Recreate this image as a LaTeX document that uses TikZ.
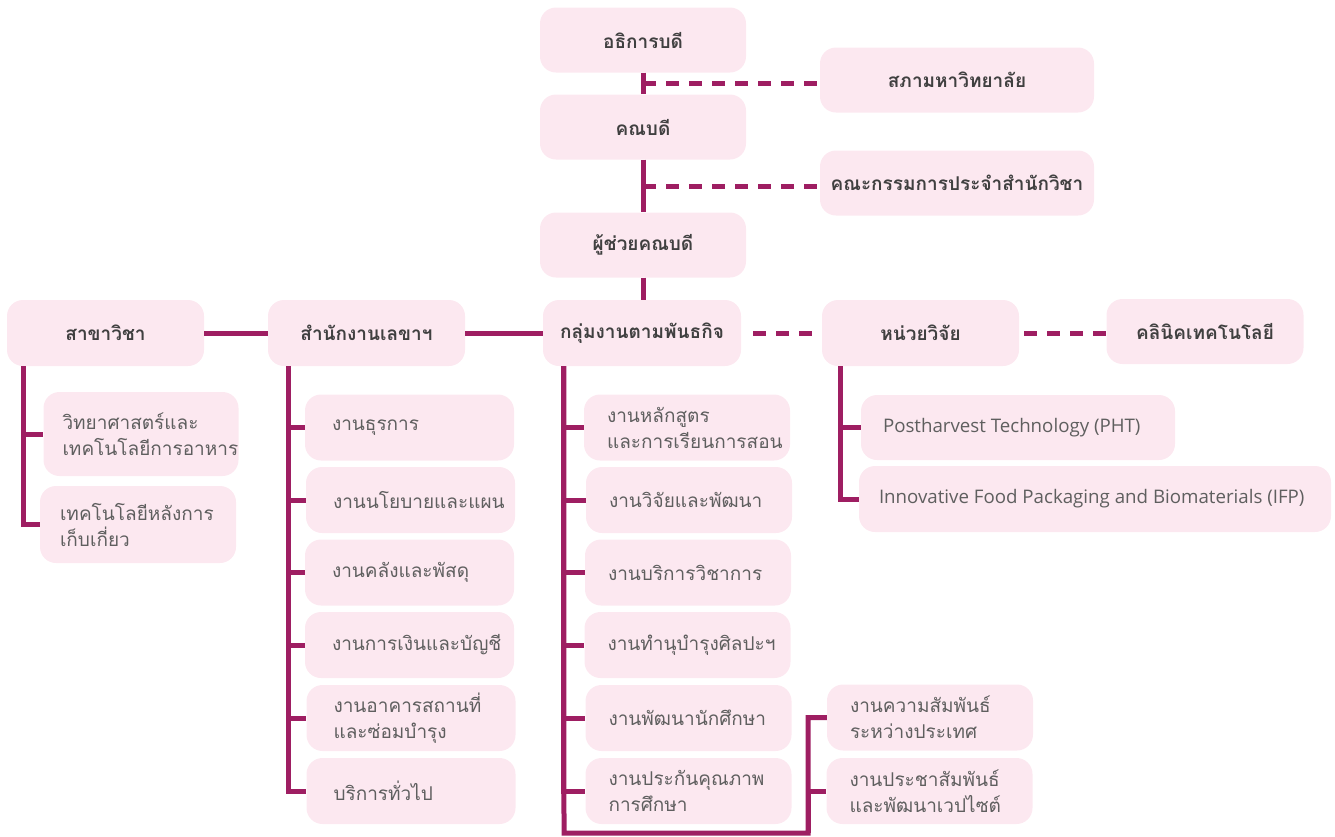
\documentclass[tikz,border=0pt]{standalone}
\usepackage{fontspec}
\newfontfamily\thaifont[Script=Thai]{Loma}
\newfontfamily\latinfont{Open Sans}
\definecolor{boxpink}{RGB}{252,232,240}
\definecolor{linepurple}{RGB}{158,30,98}
\definecolor{headgray}{RGB}{64,64,64}
\definecolor{itemgray}{RGB}{95,95,95}
\begin{document}
\begin{tikzpicture}[x=1pt,y=-1pt,
  box/.style={rounded corners=16pt, fill=boxpink, inner ysep=0pt},
  head/.style={box, minimum width=#1, minimum height=66pt, inner xsep=0pt,
    text=headgray, font=\thaifont\bfseries\fontsize{19}{24}\selectfont},
  head/.default=198pt,
  item/.style={box, minimum height=66pt, text=itemgray, align=left,
    font=\thaifont\fontsize{19}{26}\selectfont},
  conn/.style={draw=linepurple, line width=5pt},
  dashconn/.style={draw=linepurple, line width=5pt, dash pattern=on 13pt off 10pt}]
\useasboundingbox (0,0) rectangle (1335,836);

% top of the hierarchy
\node[head=206pt, minimum height=65pt] (rector) at (643,40) {อธิการบดี};
\node[head=274pt, minimum height=65pt] (council) at (957,80) {สภามหาวิทยาลัย};
\node[head=206pt, minimum height=65pt] (dean) at (643,127) {คณบดี};
\node[head=274pt, minimum height=65pt] (board) at (957,183) {คณะกรรมการประจำสำนักวิชา};
\node[head=206pt, minimum height=65pt] (asst) at (643,245) {ผู้ช่วยคณบดี};

% main row
\node[head=197pt] (sakha) at (105.5,333) {สาขาวิชา};
\node[head=197pt] (office) at (366.5,333) {สำนักงานเลขาฯ};
\node[head=198pt] (mission) at (642,333) {กลุ่มงานตามพันธกิจ};
\node[head=197pt] (research) at (920.5,333) {หน่วยวิจัย};
\node[head=197pt, minimum height=65pt] (clinic) at (1205,331.5) {คลินิคเทคโนโลยี};

% programmes
\node[item, inner xsep=19pt, text width=157pt, minimum height=84pt] (sci) at (141,434) {วิทยาศาสตร์และ\\เทคโนโลยีการอาหาร};
\node[item, inner xsep=20pt, text width=156pt, minimum height=77pt] (post) at (138,524.5) {เทคโนโลยีหลังการ\\เก็บเกี่ยว};

% secretariat units
\begin{scope}[every node/.style={item, inner xsep=27pt, text width=155pt}]
\node (o1) at (409.5,427.5) {งานธุรการ};
\node (o2) at (410.5,500) {งานนโยบายและแผน};
\node (o3) at (409.5,572.5) {งานคลังและพัสดุ};
\node (o4) at (409.5,645) {งานการเงินและบัญชี};
\node (o5) at (411,718) {งานอาคารสถานที่\\และซ่อมบำรุง};
\node (o6) at (411,791) {บริการทั่วไป};
\end{scope}

% mission units
\begin{scope}[every node/.style={item, inner xsep=23pt, text width=160pt}]
\node (m1) at (687,427.5) {งานหลักสูตร\\และการเรียนการสอน};
\node (m2) at (689,500) {งานวิจัยและพัฒนา};
\node (m3) at (688,572.5) {งานบริการวิชาการ};
\node (m4) at (687.5,645) {งานทำนุบำรุงศิลปะฯ};
\node (m5) at (688.5,718) {งานพัฒนานักศึกษา};
\node (m6) at (688.5,791) {งานประกันคุณภาพ\\การศึกษา};
\node (m7) at (930,717.5) {งานความสัมพันธ์\\ระหว่างประเทศ};
\node (m8) at (929.5,791) {งานประชาสัมพันธ์\\และพัฒนาเวปไซต์};
\end{scope}

% research groups
\node[item, inner xsep=22pt, minimum height=65pt, font=\latinfont\fontsize{18.7}{24}\selectfont] (pht) at (1018,427.5) {\makebox[270pt][l]{Postharvest Technology (PHT)}};
\node[item, inner xsep=20pt, font=\latinfont\fontsize{18.7}{24}\selectfont] (ifp) at (1095,499) {\makebox[432pt][l]{Innovative Food Packaging and Biomaterials (IFP)}};

% vertical chain
\draw[conn] (rector.south) -- (dean.north);
\draw[conn] (dean.south) -- (asst.north);
\draw[conn] (asst.south) -- (asst.south |- mission.north);
\coordinate (j1) at (643,83);
\coordinate (j2) at (643,186);
\draw[dashconn] (j1) -- (council.west |- j1);
\draw[dashconn] (j2) -- (board.west |- j2);

% main row links
\draw[conn] (sakha.east) -- (office.west);
\draw[conn] (office.east) -- (mission.west);
\draw[dashconn] (mission.east) ++(12,0) -- ([xshift=-5pt]research.west);
\draw[dashconn] (research.east) ++(5,0) -- (clinic.west |- research.east);

% branches
\foreach \c in {sci,post}
  \draw[conn] (sakha.south west) ++(16.5,0) |- (\c.west);
\foreach \c in {o1,o2,o3,o4,o5,o6}
  \draw[conn] (office.south west) ++(20.5,0) |- (\c.west);
\foreach \c in {m1,m2,m3,m4,m5,m6}
  \draw[conn] (mission.south west) ++(21,0) |- (\c.west);
\foreach \c in {pht,ifp}
  \draw[conn] (research.south west) ++(19,0) |- (\c.west);

% loop to the outreach units
\coordinate (la) at (564,833);
\coordinate (lb) at (808,833);
\draw[conn] (mission.south west) ++(21,0) -- (la) -- (lb) |- (m7.west);
\draw[conn] (lb) |- (m8.west);
\end{tikzpicture}
\end{document}
